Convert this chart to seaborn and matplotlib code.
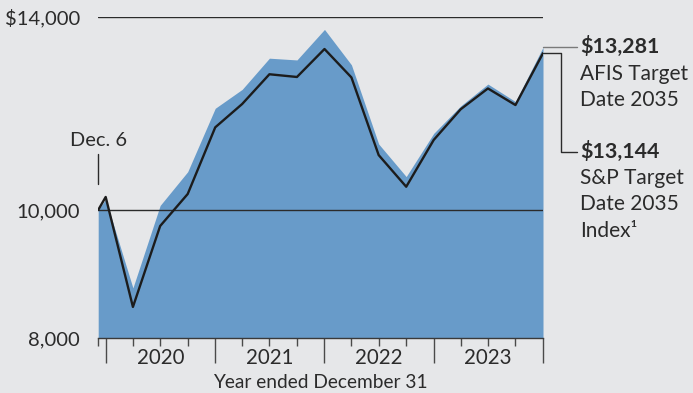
import matplotlib
matplotlib.use("Agg")
import matplotlib.pyplot as plt
import matplotlib.dates as mdates
from matplotlib.ticker import NullLocator, FixedLocator
import numpy as np
import pandas as pd
import seaborn as sns

# Growth of a hypothetical $10,000 investment
dates = ["2019-12-06", "2019-12-31", "2020-03-31", "2020-06-30", "2020-09-30",
         "2020-12-31", "2021-03-31", "2021-06-30", "2021-09-30", "2021-12-31",
         "2022-03-31", "2022-06-30", "2022-09-30", "2022-12-31", "2023-03-31",
         "2023-06-30", "2023-09-30", "2023-12-31"]
fund_values = [10000, 10190, 8730, 10080, 10690, 11940, 12340, 13030, 12990,
               13700, 12880, 11220, 10600, 11430, 11990, 12455, 12080, 13281]
index_values = [10000, 10230, 8445, 9725, 10283, 11550, 12030, 12670, 12610,
                13240, 12600, 11005, 10414, 11300, 11920, 12360, 12008, 13144]
fund_name = ["AFIS Target", "Date 2035"]
index_name = ["S&P Target", "Date 2035", "Index\u00b9"]
y_ticks = [8000, 10000, 14000]
y_tick_labels = ["8,000", "10,000", "$14,000"]
years = [2020, 2021, 2022, 2023]
x_title = "Year ended December 31"
start_label = "Dec. 6"

df = pd.DataFrame({"date": pd.to_datetime(dates),
                   "fund": fund_values, "index": index_values})

BG = "#e6e7e9"
BLUE = "#689bc9"
INK = "#2b2b2b"

sns.set_theme(style="white")
plt.rcParams["font.family"] = ["Lato", "DejaVu Sans"]

W, H = 693, 393
fig = plt.figure(figsize=(W / 100, H / 100), dpi=100, facecolor=BG)
left_px, right_px, top_px, bottom_px = 98.2, 543.0, 17.0, 338.0
ax = fig.add_axes([left_px / W, 1 - bottom_px / H,
                   (right_px - left_px) / W, (bottom_px - top_px) / H])
ax.set_facecolor(BG)

ax.set_yscale("log")
ax.set_ylim(y_ticks[0], y_ticks[-1])
ax.set_xlim(df["date"].iloc[0], df["date"].iloc[-1])

# fund: shaded area; index: black line
ax.fill_between(df["date"], y_ticks[0], df["fund"], color=BLUE, lw=0, zorder=1)
for v in y_ticks[1:]:
    ax.axhline(v, color=INK, lw=1.0, zorder=2)
sns.lineplot(data=df, x="date", y="index", ax=ax, color="#1c1c1c",
             lw=1.7, zorder=3, legend=False)

for s in ["left", "right", "top"]:
    ax.spines[s].set_visible(False)
ax.spines["bottom"].set_color("#3a3a3a")
ax.spines["bottom"].set_linewidth(1.0)

# y axis labels
ax.yaxis.set_major_locator(FixedLocator(y_ticks))
ax.yaxis.set_minor_locator(NullLocator())
ax.set_yticklabels(y_tick_labels)
ax.tick_params(axis="y", left=False, length=0, pad=13, labelsize=14.6,
               labelcolor=INK)
ax.set_ylabel("")

# x axis: tall ticks at year ends, short ticks at quarter ends
year_ends = pd.to_datetime([f"{y}-12-31" for y in [years[0] - 1] + years])
quarter_ends = pd.to_datetime([dates[0]] + [d for d in dates[1:]
                                           if not d.endswith("12-31")])
ax.xaxis.set_major_locator(FixedLocator(mdates.date2num(year_ends)))
ax.xaxis.set_minor_locator(FixedLocator(mdates.date2num(quarter_ends)))
ax.xaxis.set_major_formatter(plt.NullFormatter())
ax.xaxis.set_minor_formatter(plt.NullFormatter())
ax.tick_params(axis="x", which="both", bottom=True, direction="out")
ax.tick_params(axis="x", which="major", length=18, width=1.0, color="#4a4a4a")
ax.tick_params(axis="x", which="minor", length=5.8, width=1.0, color="#4a4a4a")
ax.set_xlabel("")

def px_to_axes_y(py):
    return (bottom_px - py) / (bottom_px - top_px)

def px_to_axes_x(px):
    return (px - left_px) / (right_px - left_px)

xtrans = ax.get_xaxis_transform()
for y in years:
    ax.text(pd.Timestamp(f"{y}-07-01"), px_to_axes_y(358), str(y),
            transform=xtrans, ha="center", va="center", fontsize=14.8,
            color=INK)
ax.text(px_to_axes_x(320), px_to_axes_y(382), x_title, transform=ax.transAxes,
        ha="center", va="center", fontsize=13.8, color=INK)

# start date marker
x0 = df["date"].iloc[0]
ax.text(x0, px_to_axes_y(140), start_label, transform=xtrans, ha="center",
        va="center", fontsize=14.4, color=INK)
ax.plot([x0, x0], [px_to_axes_y(154), px_to_axes_y(184)], transform=xtrans,
        color=INK, lw=1.0, clip_on=False)

# end-value callouts
fig.canvas.draw()
to_axes = ax.transAxes.inverted()

def data_to_axes(d, v):
    return to_axes.transform(ax.transData.transform((mdates.date2num(d), v)))

xe = df["date"].iloc[-1]
_, fy = data_to_axes(xe, df["fund"].iloc[-1])
_, iy = data_to_axes(xe, df["index"].iloc[-1])
xa, xb, xt = 1.0, px_to_axes_x(560.7), px_to_axes_x(577)
ax.plot([xa, xt], [fy, fy], transform=ax.transAxes, color="#7a7a7a",
        lw=1.0, clip_on=False)
low = px_to_axes_y(151.7)
ax.plot([xa, xb, xb, xt], [iy, iy, low, low], transform=ax.transAxes,
        color=INK, lw=1.0, clip_on=False)

tx = px_to_axes_x(580)
ax.text(tx, px_to_axes_y(46.5), f"${df['fund'].iloc[-1]:,.0f}",
        transform=ax.transAxes, ha="left", va="center", fontsize=15.4,
        fontweight="bold", color=INK)
for i, line in enumerate(fund_name):
    ax.text(tx, px_to_axes_y(73.5 + 26.5 * i), line, transform=ax.transAxes,
            ha="left", va="center", fontsize=15.0, color=INK)
ax.text(tx, px_to_axes_y(151.5), f"${df['index'].iloc[-1]:,.0f}",
        transform=ax.transAxes, ha="left", va="center", fontsize=15.4,
        fontweight="bold", color=INK)
for i, line in enumerate(index_name):
    ax.text(tx, px_to_axes_y(178 + 26.3 * i), line, transform=ax.transAxes,
            ha="left", va="center", fontsize=15.0, color=INK)

fig.savefig("out.png", dpi=100, facecolor=BG)
